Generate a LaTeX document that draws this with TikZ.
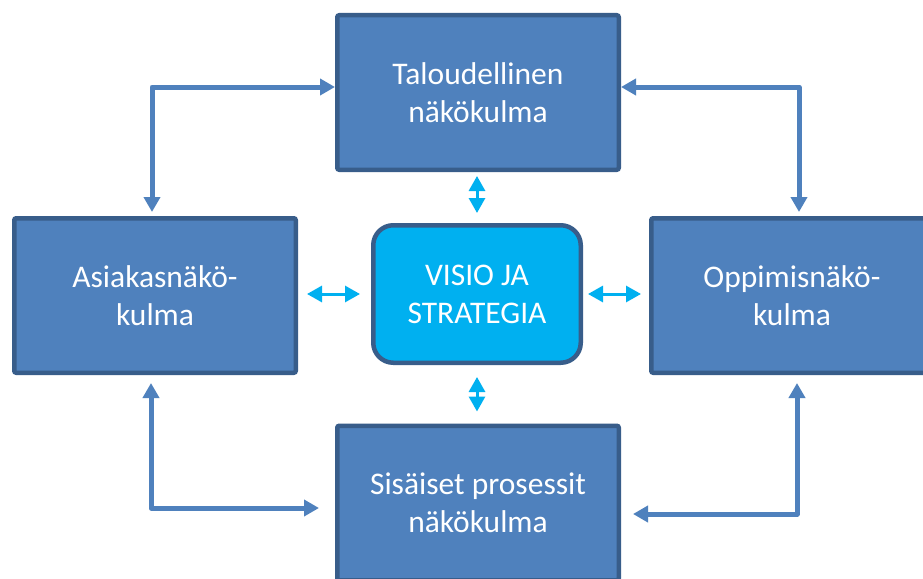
\documentclass[tikz,border=0pt]{standalone}
\usepackage{fontspec}
\setmainfont{Carlito}
\usetikzlibrary{arrows.meta}
\definecolor{boxfill}{HTML}{4F81BD}
\definecolor{boxline}{HTML}{385D8A}
\definecolor{visfill}{HTML}{00B0F0}
\begin{document}
\begin{tikzpicture}[x=1pt,y=-1pt,
  persp/.style={draw=boxline,fill=boxfill,line width=4.5pt,rounded corners=2pt,
    minimum width=281.5pt,minimum height=154.5pt,inner sep=0pt,
    text=white,align=center,font=\fontsize{31.5}{38}\selectfont},
  visbox/.style={draw=boxline,fill=visfill,line width=4.5pt,rounded corners=20pt,
    minimum width=207.5pt,minimum height=137.5pt,inner sep=0pt,
    text=white,align=center,font=\fontsize{31.5}{38}\selectfont},
  conn/.style={draw=boxfill,line width=5pt,line join=round,
    {Triangle[length=15pt,width=16pt]}-{Triangle[length=15pt,width=16pt]}},
  link/.style={draw=visfill,line width=3pt,
    {Triangle[length=15pt,width=16pt]}-{Triangle[length=15pt,width=16pt]}}
]
\useasboundingbox (0,0) rectangle (923,578);
\clip (0,0) rectangle (923,578);
\fill[white] (0,0) rectangle (923,578);

\node[persp] (top) at (478,92.5) {Taloudellinen\\näkökulma};
\node[persp] (left) at (155,295.5) {Asiakasnäkö-\\kulma};
\node[persp] (right) at (792,295.5) {Oppimisnäkö-\\kulma};
\node[persp] (bottom) at (478,503) {Sisäiset prosessit\\näkökulma};
\node[visbox] (vis) at (477,294) {VISIO JA\\STRATEGIA};

\coordinate (c1) at (152,87);
\coordinate (c2) at (799,87);
\coordinate (c3) at (151,508);
\coordinate (c4) at (797,514);

\draw[conn] ([yshift=4pt]left.north -| c1) -- (c1) -- (top.west |- c1);
\draw[conn] (top.east |- c2) -- (c2) -- ([yshift=4pt]right.north -| c2);
\draw[conn] ([yshift=-8pt]left.south -| c3) -- (c3) -- ([xshift=-16pt]bottom.west |- c3);
\draw[conn] ([yshift=-8pt]right.south -| c4) -- (c4) -- ([xshift=12pt]bottom.east |- c4);

\draw[link,shorten <=4pt,shorten >=10pt] (top.south -| vis) -- (vis.north);
\draw[link,shorten <=12pt,shorten >=12pt] (vis.south) -- (bottom.north -| vis);
\draw[link,shorten <=9pt,shorten >=11pt] (left.east |- vis) -- (vis.west);
\draw[link,shorten <=5pt,shorten >=8pt] (vis.east) -- (right.west |- vis);
\end{tikzpicture}
\end{document}
